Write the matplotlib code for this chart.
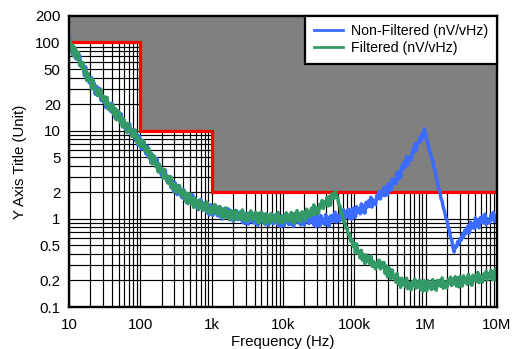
import numpy as np
import matplotlib
matplotlib.use("Agg")
import matplotlib.pyplot as plt
from matplotlib.ticker import FixedLocator, NullFormatter, LogLocator

plt.rcParams['font.family'] = ['Liberation Sans', 'DejaVu Sans']

# Frequency sweep: 60 samples per decade, 10 Hz .. 10 MHz
freq = np.logspace(1, 7, 361)

non_filtered = [
    114, 86, 95, 73, 90, 75,
    65, 76, 64, 71, 54, 58,
    55, 42, 53, 41, 42, 35,
    35, 40, 30, 35, 26, 32,
    31, 25, 30, 22, 25, 21,
    23.3, 18.3, 23.1, 18.7, 19.7, 16.6,
    20.5, 15.7, 17.6, 13.8, 17.2, 14.4,
    16, 12.9, 15.5, 11.4, 12.9, 11,
    10.1, 12, 10.4, 12, 9.1, 10.3,
    8.8, 10.2, 7.7, 9.2, 6.9, 8.7,
    8.0, 6.2, 7.7, 6.2, 6.5, 5.4,
    6.7, 5.0, 5.7, 4.3, 5.4, 4.5,
    5.0, 4.0, 4.8, 3.5, 4.0, 3.4,
    3.08, 3.63, 3.13, 3.58, 2.72, 3.04,
    2.61, 3.0, 2.26, 2.71, 2.05, 2.59,
    2.39, 1.88, 2.39, 1.95, 2.05, 1.74,
    2.17, 1.67, 1.91, 1.52, 1.93, 1.65,
    1.85, 1.53, 1.88, 1.4, 1.62, 1.41,
    1.32, 1.6, 1.42, 1.66, 1.29, 1.48,
    1.31, 1.54, 1.18, 1.45, 1.11, 1.44,
    1.36, 1.09, 1.4, 1.17, 1.25, 1.08,
    1.37, 1.07, 1.24, 0.99, 1.28, 1.1,
    1.25, 1.05, 1.3, 0.98, 1.14, 1.01,
    0.95, 1.17, 1.05, 1.24, 0.98, 1.14,
    0.99, 1.17, 0.91, 1.13, 0.88, 1.15,
    1.07, 0.87, 1.13, 0.95, 1.03, 0.9,
    1.13, 0.89, 1.04, 0.84, 1.09, 0.95,
    1.07, 0.91, 1.13, 0.86, 1.01, 0.9,
    0.85, 1.05, 0.94, 1.12, 0.88, 1.03,
    0.92, 1.1, 0.85, 1.06, 0.82, 1.08,
    1.03, 0.83, 1.09, 0.91, 0.99, 0.86,
    1.11, 0.87, 1.02, 0.82, 1.07, 0.93,
    1.07, 0.9, 1.13, 0.85, 1.01, 0.89,
    0.85, 1.05, 0.94, 1.12, 0.88, 1.03,
    0.92, 1.1, 0.85, 1.06, 0.82, 1.08,
    1.03, 0.83, 1.09, 0.91, 0.99, 0.86,
    1.12, 0.88, 1.03, 0.83, 1.08, 0.95,
    1.1, 0.94, 1.19, 0.92, 1.09, 0.98,
    0.95, 1.18, 1.07, 1.27, 1.01, 1.19,
    1.07, 1.29, 1.01, 1.26, 0.99, 1.32,
    1.27, 1.05, 1.38, 1.18, 1.3, 1.14,
    1.48, 1.19, 1.42, 1.16, 1.54, 1.36,
    1.6, 1.38, 1.76, 1.36, 1.64, 1.49,
    1.45, 1.84, 1.69, 2.06, 1.68, 2.01,
    1.85, 2.27, 1.83, 2.33, 1.88, 2.53,
    2.49, 2.1, 2.84, 2.48, 2.79, 2.53,
    3.36, 2.8, 3.43, 2.93, 3.99, 3.66,
    4.4, 3.9, 5.09, 4.05, 5.01, 4.65,
    4.66, 6.02, 5.68, 7.08, 5.89, 7.21,
    7.2, 8.4, 7.6, 9.2, 8.7, 10.5,
    9.4, 7.6, 7.3, 6.0, 5.8, 4.9,
    4.7, 3.8, 3.6, 2.9, 2.65, 2.2,
    2.05, 1.7, 1.58, 1.33, 1.22, 1.04,
    0.97, 0.81, 0.75, 0.62, 0.58, 0.48,
    0.42, 0.49, 0.48, 0.55, 0.52, 0.6,
    0.57, 0.67, 0.62, 0.74, 0.68, 0.8,
    0.83, 0.69, 0.92, 0.79, 0.88, 0.78,
    1.03, 0.82, 0.97, 0.79, 1.03, 0.91,
    1.07, 0.9, 1.13, 0.86, 1.01, 0.9,
    0.9, 1.1, 0.99, 1.18, 0.93, 1.09,
    1.06,
]

filtered = [
    95, 107, 79, 94, 70, 87,
    81, 65, 77, 55, 61, 51,
    59, 44, 49, 37, 45, 37,
    39, 30, 38, 30, 32, 26,
    25, 29, 25, 29, 22, 24,
    24.2, 19.8, 23.9, 17.5, 20.1, 17.1,
    17.1, 19.7, 14.8, 17.7, 13.3, 16.7,
    16.5, 12.5, 14.1, 11, 13.6, 11.4,
    12.2, 9.5, 12, 9.8, 10.2, 8.6,
    10.2, 8.4, 10.1, 7.4, 8.4, 7.2,
    6.6, 7.8, 6.7, 7.6, 5.8, 6.5,
    5.6, 6.3, 4.8, 5.6, 4.2, 5.2,
    5.1, 3.9, 4.3, 3.4, 4.2, 3.55,
    3.71, 2.89, 3.62, 2.92, 3.05, 2.55,
    3.03, 2.47, 2.98, 2.19, 2.51, 2.14,
    1.98, 2.37, 2.07, 2.38, 1.83, 2.08,
    1.81, 2.1, 1.6, 1.95, 1.49, 1.91,
    1.92, 1.49, 1.7, 1.35, 1.72, 1.47,
    1.59, 1.27, 1.64, 1.35, 1.45, 1.25,
    1.52, 1.26, 1.55, 1.17, 1.36, 1.2,
    1.14, 1.39, 1.24, 1.45, 1.14, 1.31,
    1.17, 1.38, 1.07, 1.29, 1.01, 1.31,
    1.33, 1.04, 1.21, 0.98, 1.25, 1.09,
    1.19, 0.96, 1.25, 1.05, 1.14, 1.0,
    1.2, 1.01, 1.26, 0.96, 1.13, 1.0,
    0.94, 1.16, 1.04, 1.23, 0.97, 1.13,
    1.0, 1.19, 0.92, 1.14, 0.89, 1.17,
    1.19, 0.94, 1.09, 0.88, 1.14, 1.0,
    1.09, 0.89, 1.15, 0.97, 1.05, 0.92,
    1.12, 0.95, 1.18, 0.9, 1.06, 0.94,
    0.9, 1.1, 0.99, 1.17, 0.93, 1.08,
    0.99, 1.18, 0.92, 1.14, 0.89, 1.16,
    1.24, 0.98, 1.14, 0.93, 1.2, 1.06,
    1.19, 0.97, 1.29, 1.09, 1.19, 1.06,
    1.32, 1.13, 1.44, 1.11, 1.33, 1.2,
    1.16, 1.46, 1.34, 1.62, 1.31, 1.56,
    1.43, 1.74, 1.4, 1.79, 1.43, 1.92,
    1.85, 1.7, 2.05, 1.82, 1.78, 1.45,
    1.4, 1.15, 1.12, 0.94, 0.92, 0.78,
    0.79, 0.66, 0.68, 0.56, 0.58, 0.49,
    0.53, 0.41, 0.52, 0.41, 0.43, 0.36,
    0.44, 0.34, 0.39, 0.31, 0.39, 0.33,
    0.37, 0.31, 0.38, 0.29, 0.33, 0.29,
    0.27, 0.32, 0.29, 0.34, 0.27, 0.32,
    0.28, 0.32, 0.24, 0.29, 0.22, 0.28,
    0.265, 0.21, 0.264, 0.215, 0.227, 0.192,
    0.24, 0.185, 0.212, 0.167, 0.212, 0.181,
    0.2, 0.17, 0.212, 0.161, 0.19, 0.168,
    0.158, 0.194, 0.175, 0.207, 0.164, 0.191,
    0.169, 0.201, 0.157, 0.194, 0.151, 0.198,
    0.189, 0.153, 0.199, 0.167, 0.182, 0.158,
    0.205, 0.162, 0.19, 0.155, 0.2, 0.175,
    0.201, 0.171, 0.214, 0.163, 0.193, 0.172,
    0.165, 0.204, 0.184, 0.218, 0.175, 0.206,
    0.185, 0.221, 0.173, 0.215, 0.169, 0.221,
    0.212, 0.173, 0.226, 0.191, 0.207, 0.181,
    0.234, 0.185, 0.217, 0.176, 0.229, 0.2,
    0.231, 0.197, 0.247, 0.189, 0.225, 0.199,
    0.192, 0.237, 0.216, 0.254, 0.204, 0.24,
    0.217, 0.26, 0.204, 0.254, 0.204, 0.27,
    0.25,
]

# Stepped limit mask
limit_freq = [10, 100, 100, 1000, 1000, 1e7]
limit_vals = [100, 100, 10, 10, 2, 2]

x_ticks = [10, 100, 1e3, 1e4, 1e5, 1e6, 1e7]
x_labels = ["10", "100", "1k", "10k", "100k", "1M", "10M"]
y_ticks = [0.1, 0.2, 0.5, 1, 2, 5, 10, 20, 50, 100, 200]
y_labels = ["0.1", "0.2", "0.5", "1", "2", "5", "10", "20", "50", "100", "200"]

fig = plt.figure(figsize=(5.13, 3.49), dpi=100)
ax = fig.add_axes([0.1345, 0.1203, 0.834, 0.834])
ax.set_xscale("log")
ax.set_yscale("log")
ax.set_xlim(10, 1e7)
ax.set_ylim(0.1, 200)

# Grid on every decade subdivision
ax.xaxis.set_major_locator(FixedLocator(x_ticks))
ax.xaxis.set_minor_locator(LogLocator(base=10, subs=np.arange(2, 10)))
ax.yaxis.set_major_locator(FixedLocator(y_ticks))
ax.yaxis.set_minor_locator(LogLocator(base=10, subs=np.arange(2, 10)))
ax.xaxis.set_minor_formatter(NullFormatter())
ax.yaxis.set_minor_formatter(NullFormatter())
ax.set_xticklabels(x_labels)
ax.set_yticklabels(y_labels)
ax.grid(True, which="both", color="black", linewidth=0.85, zorder=0)
ax.set_axisbelow(True)
ax.tick_params(which="both", length=0, labelsize=10.8, colors="black")
ax.tick_params(axis="x", pad=8)
ax.tick_params(axis="y", pad=6)

# Shaded region above the limit
ax.fill_between(limit_freq, limit_vals, 200, color="#808080", linewidth=0, zorder=1)
ax.plot(limit_freq, limit_vals, color="#ff0000", linewidth=2.3, zorder=2,
        solid_joinstyle="miter")

ax.plot(freq, non_filtered, color="#3b6cff", linewidth=2.5, zorder=3,
        solid_joinstyle="round", label="Non-Filtered (nV/vHz)")
ax.plot(freq, filtered, color="#339966", linewidth=2.5, zorder=4,
        solid_joinstyle="round", label="Filtered (nV/vHz)")

for s in ax.spines.values():
    s.set_linewidth(1.7)
    s.set_color("black")
    s.set_zorder(6)

leg = ax.legend(loc="upper right", borderaxespad=0, fontsize=10.2, frameon=True,
                fancybox=False, handlelength=2.1, handletextpad=0.55,
                borderpad=0.6, labelspacing=0.2)
for h in leg.get_lines():
    h.set_linewidth(2.0)
leg.get_frame().set_edgecolor("black")
leg.get_frame().set_linewidth(1.6)
leg.get_frame().set_facecolor("white")
leg.get_frame().set_alpha(1)
leg.set_zorder(7)

ax.set_xlabel("Frequency (Hz)", fontsize=10.8, labelpad=2)
ax.set_ylabel("Y Axis Title (Unit)", fontsize=10.8, labelpad=6)

fig.savefig("out.png", dpi=100)
